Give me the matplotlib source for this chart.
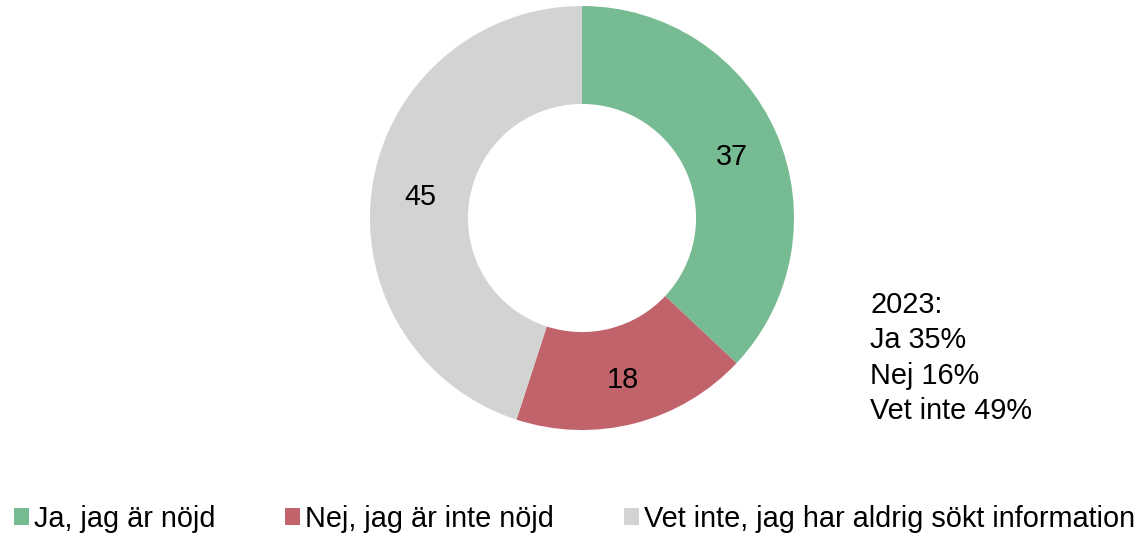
import matplotlib
matplotlib.use("Agg")
import matplotlib.pyplot as plt
from matplotlib.patches import Patch

plt.rcParams['font.family'] = ['Liberation Sans', 'DejaVu Sans']

# Answer categories and shares (percent)
labels = ["Ja, jag är nöjd", "Nej, jag är inte nöjd", "Vet inte, jag har aldrig sökt information"]
values = [37, 18, 45]
colors = ["#77BB92", "#C0636B", "#D3D3D3"]
note = "2023:\nJa 35%\nNej 16%\nVet inte 49%"

W, H = 1142, 535
FS = 20.8
fig = plt.figure(figsize=(W / 100, H / 100), dpi=100)

# donut centre and outer radius in pixels
cx, cy, r = 582, 218, 212
ax = fig.add_axes([(cx - r) / W, (H - cy - r) / H, 2 * r / W, 2 * r / H])

wedges, texts, autotexts = ax.pie(
    values, colors=colors, startangle=90, counterclock=False, radius=1,
    wedgeprops=dict(width=0.462, edgecolor="white", linewidth=0),
    autopct=lambda p: "%d" % round(p), pctdistance=0.77,
    textprops=dict(fontsize=FS, color="black"))
# nudge the numbers down a little, like the original
for t in autotexts:
    x, y = t.get_position()
    t.set_position((x, y - 0.02))
ax.set_xlim(-1, 1)
ax.set_ylim(-1, 1)
ax.axis("off")

fig.text(870 / W, 1 - 291 / H, note, fontsize=FS, va="top", ha="left", linespacing=1.33)

handles = [Patch(facecolor=c, edgecolor="none") for c in colors]
fig.legend(handles, labels, loc="center left", bbox_to_anchor=(2.5 / W, (H - 519) / H),
           ncol=3, frameon=False, fontsize=FS, handlelength=0.52, handleheight=0.52,
           handletextpad=0.17, columnspacing=2.42, borderaxespad=0)

fig.savefig("out.png", dpi=100)
